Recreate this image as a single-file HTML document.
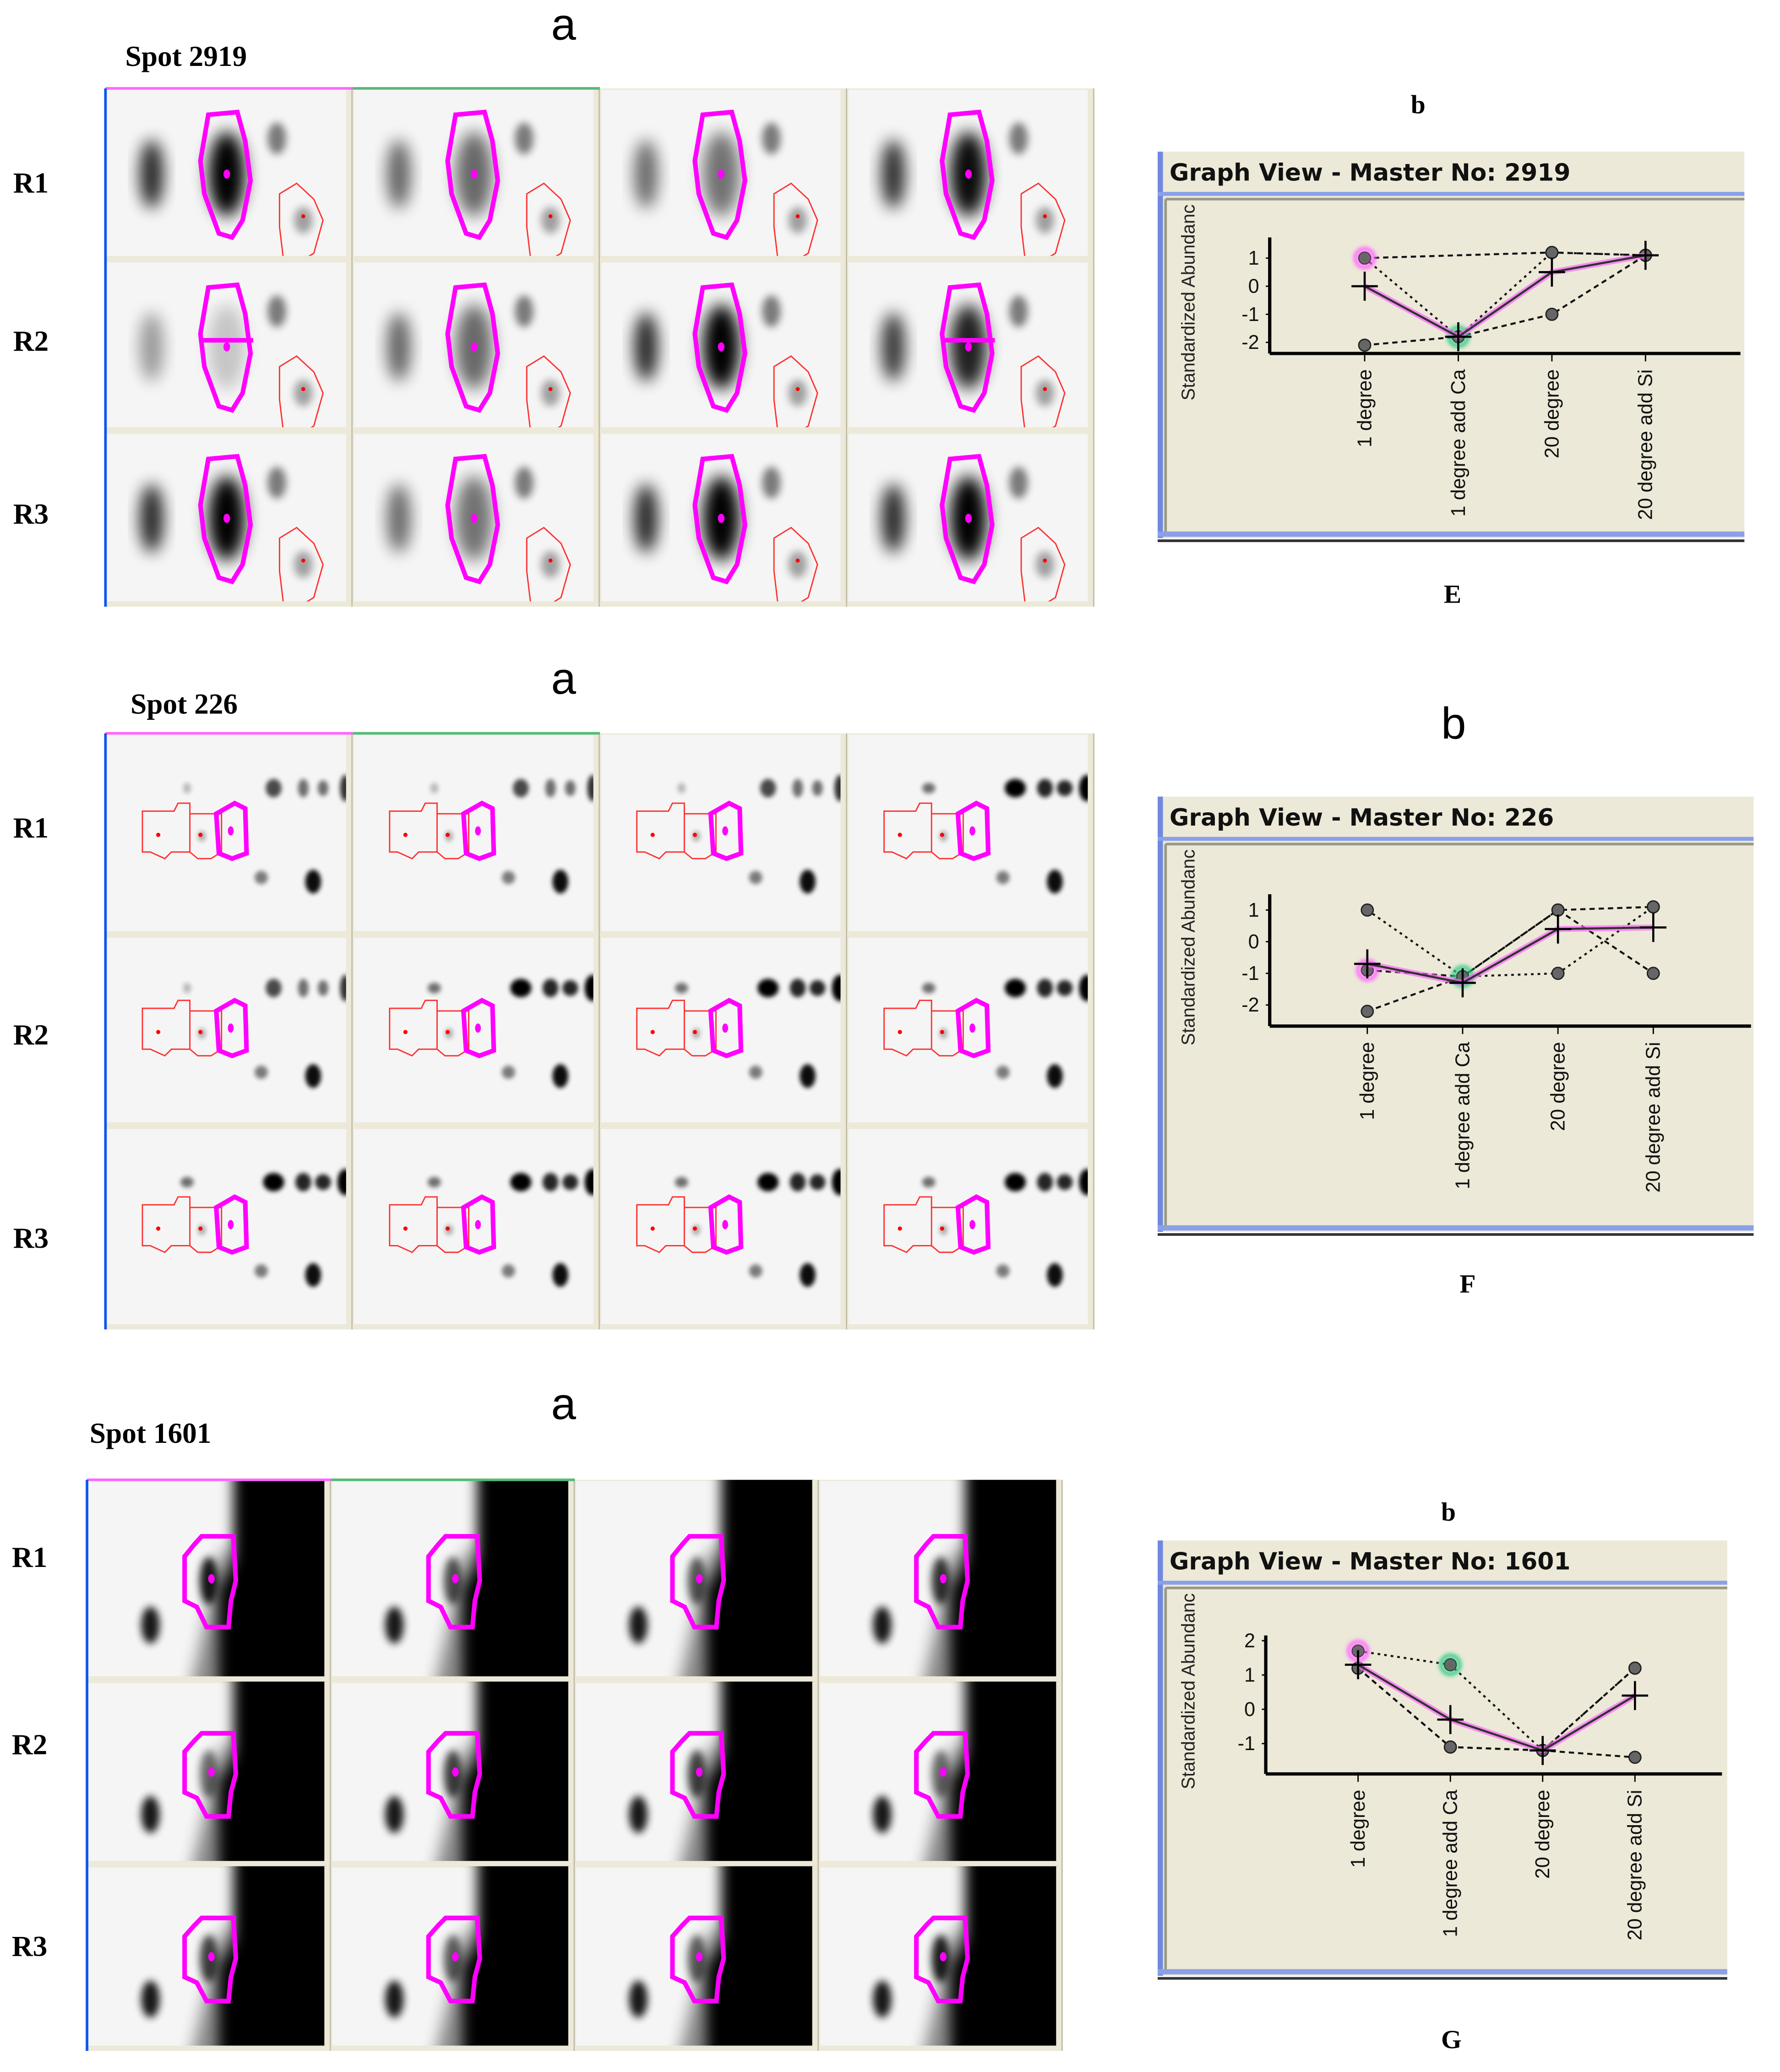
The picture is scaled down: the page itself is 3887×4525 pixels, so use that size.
<!DOCTYPE html>
<html><head><meta charset="utf-8">
<style>
html,body{margin:0;padding:0;background:#fff;}
svg{display:block;}
</style></head>
<body>
<svg id="root" xmlns="http://www.w3.org/2000/svg" width="3887" height="4525" viewBox="0 0 1350 1571" preserveAspectRatio="none" font-family="Liberation Sans, sans-serif">
<defs>
<filter id="b3" x="-50%" y="-50%" width="200%" height="200%"><feGaussianBlur stdDeviation="3"/></filter>
<filter id="b5" x="-50%" y="-50%" width="200%" height="200%"><feGaussianBlur stdDeviation="5"/></filter>
<filter id="b6" x="-50%" y="-50%" width="200%" height="200%"><feGaussianBlur stdDeviation="6"/></filter>
<filter id="b2" x="-50%" y="-50%" width="200%" height="200%"><feGaussianBlur stdDeviation="1.8"/></filter>
<filter id="glow" x="-50%" y="-50%" width="200%" height="200%"><feGaussianBlur stdDeviation="1.5"/></filter>
</defs>
<rect width="1350" height="1571" fill="#fff"/>
<g id="gels"></g>
<g id="graphs"></g>
<g font-family="Liberation Serif, serif" font-weight="bold" fill="#000">
<text x="95" y="50" font-size="22">Spot 2919</text>
<text x="99" y="541" font-size="22">Spot 226</text>
<text x="68" y="1094" font-size="22">Spot 1601</text>
<text x="10" y="146" font-size="22">R1</text>
<text x="10" y="266" font-size="22">R2</text>
<text x="10" y="397" font-size="22">R3</text>
<text x="10" y="635" font-size="22">R1</text>
<text x="10" y="792" font-size="22">R2</text>
<text x="10" y="946" font-size="22">R3</text>
<text x="9" y="1188" font-size="22">R1</text>
<text x="9" y="1330" font-size="22">R2</text>
<text x="9" y="1483" font-size="22">R3</text>
<text x="1070" y="86" font-size="20">b</text>
<text x="1095" y="457" font-size="20">E</text>
<text x="1107" y="980" font-size="20">F</text>
<text x="1093" y="1153" font-size="20">b</text>
<text x="1093" y="1553" font-size="20">G</text>
</g>
<g font-size="34" fill="#000">
<text x="418" y="30">a</text>
<text x="418" y="526">a</text>
<text x="418" y="1076">a</text>
<text x="1093" y="560">b</text>
</g>
</svg>
<script>
const NS='http://www.w3.org/2000/svg';
function mk(parent,tag,attrs){const e=document.createElementNS(NS,tag);for(const k in attrs)e.setAttribute(k,attrs[k]);parent.appendChild(e);return e;}
const gels=document.getElementById('gels');

const grids=[
 {x0:80,x1:830,rows:[67,198,328,460],type:1},
 {x0:80,x1:830,rows:[556,710,855,1008],type:2},
 {x0:66,x1:806,rows:[1122,1275,1415,1555],type:3}
];
const int1=[1,0.5,0.45,0.95, 0.05,0.5,1,0.85, 1,0.45,1,1];
const int3=[1,0.6,0.55,0.8, 0.4,0.7,0.7,0.4, 0.7,0.5,0.5,0.95];

grids.forEach((g,gi)=>{
 const cw=(g.x1-g.x0)/4;
 for(let r=0;r<3;r++)for(let c=0;c<4;c++){
  const x=g.x0+c*cw, y=g.rows[r], h=g.rows[r+1]-g.rows[r], w=cw;
  const cell=mk(gels,'g',{});
  
  
  const cp='cp'+gi+r+c;
  const clip=mk(cell,'clipPath',{id:cp});mk(clip,'rect',{x:x,y:y,width:w-3,height:h-3});
  mk(cell,'rect',{x:x,y:y,width:w,height:h,fill:'#ece9d8'});
  mk(cell,'rect',{x:x+1,y:y+1,width:w-4,height:h-4,fill:'#f5f5f5'});
  const gg=mk(cell,'g',{'clip-path':'url(#'+cp+')'});
  const idx=r*4+c;
  if(g.type===1){
   const k=int1[idx];
   mk(gg,'ellipse',{cx:x+35,cy:y+65,rx:9,ry:26,fill:'#000',opacity:0.35+0.5*k,filter:'url(#b6)'});
   mk(gg,'ellipse',{cx:x+92,cy:y+65,rx:14,ry:32,fill:'#000',opacity:0.15+0.85*k,filter:'url(#b6)'});
   mk(gg,'ellipse',{cx:x+130,cy:y+38,rx:7,ry:12,fill:'#000',opacity:0.5,filter:'url(#b3)'});
   mk(gg,'ellipse',{cx:x+150,cy:y+100,rx:7,ry:10,fill:'#000',opacity:0.35,filter:'url(#b3)'});
   mk(gg,'path',{d:`M${x+78} ${y+20} L${x+100} ${y+18} L${x+106} ${y+40} L${x+110} ${y+70} L${x+104} ${y+100} L${x+96} ${y+113} L${x+86} ${y+110} L${x+75} ${y+80} L${x+72} ${y+55} Z`,fill:'none',stroke:'#ff00ff','stroke-width':3.5});
   if(idx===4||idx===7) mk(gg,'line',{x1:x+72,y1:y+60,x2:x+112,y2:y+60,stroke:'#ff00ff','stroke-width':3.5});
   mk(gg,'ellipse',{cx:x+92,cy:y+65,rx:2.5,ry:3.5,fill:'#ff00ff'});
   mk(gg,'path',{d:`M${x+132} ${y+80} L${x+145} ${y+72} L${x+158} ${y+84} L${x+165} ${y+100} L${x+158} ${y+125} L${x+150} ${y+130} L${x+135} ${y+130} L${x+132} ${y+105} Z`,fill:'none',stroke:'#ff3030','stroke-width':1});
   mk(gg,'circle',{cx:x+150,cy:y+97,r:1.5,fill:'#f00'});
  } else if(g.type===2){
   const boost=(c===3||r===2||(r===1&&c>=1))?0.3:0;
   const top=[[0.68,0.7,6,7],[0.8,0.55,4,7],[0.88,0.55,4,6],[0.97,0.8,4,10],[0.33,0.25,3,4]];
   top.forEach(t=>mk(gg,'ellipse',{cx:x+w*t[0],cy:y+h*0.27,rx:t[2]+(boost?2:0),ry:t[3],fill:'#000',opacity:Math.min(1,t[1]+boost),filter:'url(#b2)'}));
   mk(gg,'ellipse',{cx:x+w*0.63,cy:y+h*0.71,rx:5,ry:5,fill:'#000',opacity:0.5,filter:'url(#b2)'});
   mk(gg,'ellipse',{cx:x+w*0.84,cy:y+h*0.73,rx:6,ry:9,fill:'#000',opacity:0.95,filter:'url(#b2)'});
   const cy=y+h*0.5;
   mk(gg,'path',{d:`M${x+28} ${cy-18} L${x+52} ${cy-18} L${x+55} ${cy-24} L${x+64} ${cy-24} L${x+64} ${cy+13} L${x+50} ${cy+13} L${x+45} ${cy+18} L${x+34} ${cy+13} L${x+28} ${cy+13} Z`,fill:'none',stroke:'#ff3030','stroke-width':1});
   mk(gg,'path',{d:`M${x+64} ${cy-16} L${x+88} ${cy-16} L${x+88} ${cy+13} L${x+80} ${cy+18} L${x+70} ${cy+18} L${x+64} ${cy+13}`,fill:'none',stroke:'#ff3030','stroke-width':1});
   mk(gg,'path',{d:`M${x+84} ${cy-16} L${x+98} ${cy-24} L${x+106} ${cy-20} L${x+107} ${cy+14} L${x+96} ${cy+18} L${x+86} ${cy+14} Z`,fill:'none',stroke:'#ff00ff','stroke-width':3.5});
   mk(gg,'ellipse',{cx:x+73,cy:cy+1,rx:3,ry:4,fill:'#000',opacity:0.3,filter:'url(#b2)'});
   mk(gg,'circle',{cx:x+40,cy:cy,r:1.6,fill:'#f00'});
   mk(gg,'circle',{cx:x+72,cy:cy,r:1.6,fill:'#f00'});
   mk(gg,'ellipse',{cx:x+95,cy:cy-3,rx:2.2,ry:3.5,fill:'#ff00ff'});
  } else {
   const k=int3[idx];
   mk(gg,'path',{d:`M${x+w*0.55} ${y+h*0.35} L${x+w*0.62} ${y+h*0.35} L${x+w*0.62} ${y+h+10} L${x+w*0.42} ${y+h+10} Z`,fill:'#000',opacity:0.45,filter:'url(#b6)'});
   mk(gg,'path',{d:`M${x+w*0.6} ${y-10} L${x+w+20} ${y-10} L${x+w+20} ${y+h+10} L${x+w*0.54} ${y+h+10} L${x+w*0.54} ${y+h*0.55} L${x+w*0.6} ${y+h*0.4} Z`,fill:'#000',filter:'url(#b5)'});
   mk(gg,'ellipse',{cx:x+w*0.26,cy:y+h*0.72,rx:7,ry:14,fill:'#000',opacity:0.9,filter:'url(#b3)'});
   mk(gg,'ellipse',{cx:x+w*0.5,cy:y+h*0.5,rx:7,ry:18,fill:'#000',opacity:0.3+0.6*k,filter:'url(#b3)'});
   mk(gg,'path',{d:`M${x+w*0.47} ${y+h*0.28} L${x+w*0.6} ${y+h*0.28} L${x+w*0.61} ${y+h*0.5} L${x+w*0.59} ${y+h*0.6} L${x+w*0.58} ${y+h*0.73} L${x+w*0.49} ${y+h*0.73} L${x+w*0.45} ${y+h*0.63} L${x+w*0.4} ${y+h*0.6} L${x+w*0.4} ${y+h*0.38} L${x+w*0.44} ${y+h*0.32} Z`,fill:'none',stroke:'#ff00ff','stroke-width':3.5});
   mk(gg,'ellipse',{cx:x+w*0.51,cy:y+h*0.49,rx:2.5,ry:3.5,fill:'#ff00ff'});
  }
  mk(cell,'rect',{x:x+w-5,y:y,width:4,height:h,fill:'#ece9d8'});
  mk(cell,'rect',{x:x,y:y+h-4,width:w,height:3,fill:'#ece9d8'});
  mk(cell,'line',{x1:x+w-0.5,y1:y,x2:x+w-0.5,y2:y+h,stroke:'#c0bca8','stroke-width':1});
 }
 mk(gels,'line',{x1:g.x0,y1:g.rows[0],x2:g.x0+cw,y2:g.rows[0],stroke:'#ff66ff','stroke-width':2});
 mk(gels,'line',{x1:g.x0+cw,y1:g.rows[0],x2:g.x0+2*cw,y2:g.rows[0],stroke:'#55bb77','stroke-width':2});
 mk(gels,'line',{x1:g.x0,y1:g.rows[0],x2:g.x0,y2:g.rows[3],stroke:'#1155ee','stroke-width':2});
});

// ===== Graph data =====
const categories=['1 degree','1 degree add Ca','20 degree','20 degree add Si'];
const g1Ticks=[1,0,-1,-2];
const g1RepA=[1,-1.8,1.2,1.1];
const g1RepB=[-2.1,-1.8,-1.0,1.1];
const g1RepC=[1,null,1.2,1.1];
const g1Mean=[0,-1.8,0.5,1.1];
const g2Ticks=[1,0,-1,-2];
const g2RepA=[1,-1.1,-1.0,1.1];
const g2RepB=[-0.9,-1.1,1.0,-1.0];
const g2RepC=[-2.2,-1.1,1.0,1.1];
const g2Mean=[-0.7,-1.3,0.4,0.45];
const g3Ticks=[2,1,0,-1];
const g3RepA=[1.7,1.3,-1.2,1.2];
const g3RepB=[1.2,-1.1,-1.2,-1.4];
const g3RepC=[1.2,-1.1,-1.2,1.2];
const g3Mean=[1.3,-0.3,-1.2,0.4];

const graphs=document.getElementById('graphs');
function graph(o){
 const G=mk(graphs,'g',{});
 
 
 mk(G,'rect',{x:o.x0,y:o.top,width:o.x1-o.x0,height:o.bot-o.top,fill:'#ece9d8'});
 mk(G,'rect',{x:o.x0,y:o.top,width:4,height:o.bot-o.top,fill:'#7088e0'});
 mk(G,'line',{x1:o.x0,y1:o.top+32,x2:o.x1,y2:o.top+32,stroke:'#8aa0e8','stroke-width':3});
 mk(G,'line',{x1:o.x0+6,y1:o.top+36,x2:o.x1,y2:o.top+36,stroke:'#9a9888','stroke-width':2});
 mk(G,'line',{x1:o.x0+6,y1:o.top+36,x2:o.x0+6,y2:o.bot-4,stroke:'#9a9888','stroke-width':2});
 mk(G,'line',{x1:o.x0,y1:o.bot-3,x2:o.x1,y2:o.bot-3,stroke:'#8aa0e8','stroke-width':4});
 mk(G,'line',{x1:o.x0,y1:o.bot+2,x2:o.x1,y2:o.bot+2,stroke:'#333','stroke-width':2});
 const t=mk(G,'text',{x:o.x0+9,y:o.top+22,'font-size':18,'font-family':'DejaVu Sans, sans-serif','font-weight':'bold',fill:'#111'});
 t.textContent='Graph View - Master No: '+o.no;
 
 
 const yt=mk(G,'text',{x:0,y:0,'font-size':14,fill:'#222','text-anchor':'end',transform:`translate(${o.x0+28},${o.top+40}) rotate(-90)`});
 yt.textContent='Standardized Abundanc';
 
 
 const Y=v=>o.y0-v*o.unit;
 const X=i=>o.cx0+i*o.dx;
 mk(G,'line',{x1:o.ax,y1:o.ayTop,x2:o.ax,y2:o.axisY,stroke:'#000','stroke-width':2.5});
 mk(G,'line',{x1:o.ax,y1:o.axisY,x2:o.axEnd,y2:o.axisY,stroke:'#000','stroke-width':2.5});
 o.ticks.forEach(v=>{
  const tl=mk(G,'text',{x:o.ax-8,y:Y(v)+5,'font-size':15,'text-anchor':'end',fill:'#111'});
  tl.textContent=v;
  
  
  mk(G,'line',{x1:o.ax-3,y1:Y(v),x2:o.ax,y2:Y(v),stroke:'#000'});
 });
 categories.forEach((c,i)=>{
  mk(G,'line',{x1:X(i),y1:o.axisY,x2:X(i),y2:o.axisY+6,stroke:'#000'});
  const cl=mk(G,'text',{x:0,y:0,'font-size':15,'text-anchor':'end',fill:'#111',transform:`translate(${X(i)+5},${o.axisY+12}) rotate(-90)`});
  cl.textContent=c;
  
  
 });
 o.reps.forEach((s,si)=>{
  let d='';let prev=null;
  s.forEach((v,i)=>{if(v===null){return;}d+=(prev===null?'M':'L')+X(i)+' '+Y(v)+' ';prev=v;});
  const p=mk(G,'path',{d:d,fill:'none',stroke:'#111','stroke-width':1.5,'stroke-dasharray':si===0?'2 3':'4 3'});
  
  
  s.forEach((v,i)=>{if(v===null)return;
   const m=mk(G,'circle',{cx:X(i),cy:Y(v),r:4.5,fill:'#666',stroke:'#222','stroke-width':1});
   
   
  });
 });
 mk(G,'circle',{cx:X(0),cy:Y(o.pink),r:7,fill:'none',stroke:'#ff66ff','stroke-width':3,filter:'url(#glow)'});
 mk(G,'circle',{cx:X(1),cy:Y(o.green),r:7,fill:'none',stroke:'#33cc88','stroke-width':3,filter:'url(#glow)'});
 let md='';o.mean.forEach((v,i)=>{md+=(i?'L':'M')+X(i)+' '+Y(v)+' ';});
 mk(G,'path',{d:md,fill:'none',stroke:'#ff66ff','stroke-width':4.5,opacity:0.7});
 const ml=mk(G,'path',{d:md,fill:'none',stroke:'#333','stroke-width':1.6});
 
 
 o.mean.forEach((v,i)=>{
  const pl=mk(G,'path',{d:`M${X(i)-10} ${Y(v)}h20M${X(i)} ${Y(v)-11}v22`,stroke:'#000','stroke-width':1.6});
  
  
 });
}
graph({no:2919,x0:878,x1:1323,top:115,bot:408,ax:963,ayTop:180,axisY:268,axEnd:1320,cx0:1035,dx:71,y0:217,unit:21.3,ticks:g1Ticks,reps:[g1RepA,g1RepB,g1RepC],mean:g1Mean,pink:1,green:-1.8});
graph({no:226,x0:878,x1:1330,top:604,bot:934,ax:963,ayTop:678,axisY:778,axEnd:1328,cx0:1037,dx:72.3,y0:714,unit:24,ticks:g2Ticks,reps:[g2RepA,g2RepB,g2RepC],mean:g2Mean,pink:-0.9,green:-1.1});
graph({no:1601,x0:878,x1:1310,top:1168,bot:1498,ax:960,ayTop:1240,axisY:1345,axEnd:1306,cx0:1030,dx:70,y0:1296,unit:26,ticks:g3Ticks,reps:[g3RepA,g3RepB,g3RepC],mean:g3Mean,pink:1.7,green:1.3});
</script>
</body></html>
